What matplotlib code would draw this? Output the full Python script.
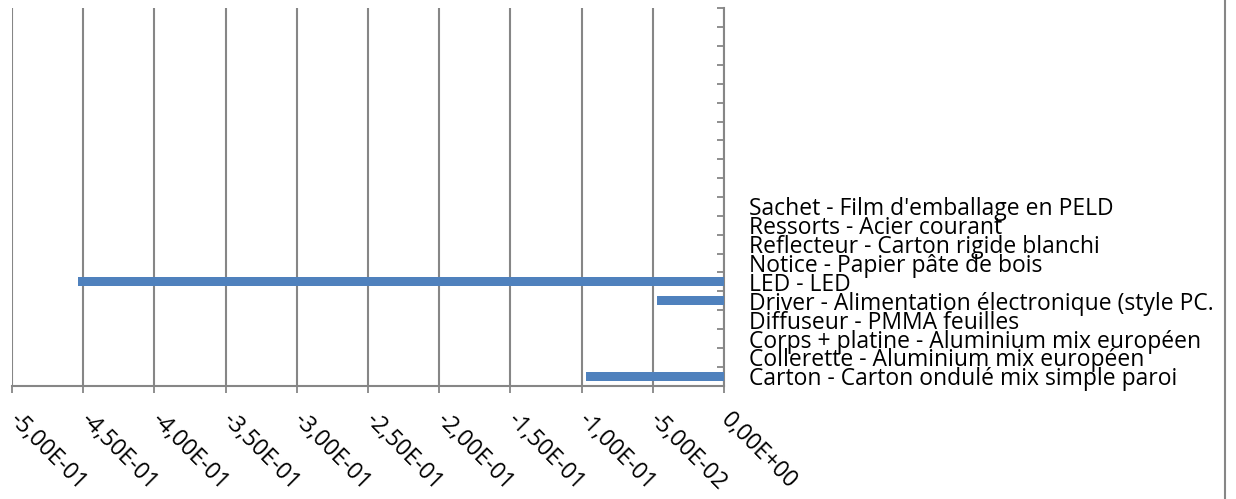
import matplotlib
matplotlib.use("Agg")
import matplotlib.pyplot as plt
from matplotlib.lines import Line2D
import numpy as np

# Data (bottom to top)
categories = [
    "Carton - Carton ondulé mix simple paroi",
    "Collerette - Aluminium mix européen",
    "Corps + platine - Aluminium mix européen",
    "Diffuseur - PMMA feuilles",
    "Driver - Alimentation électronique (style PC.",
    "LED - LED",
    "Notice - Papier pâte de bois",
    "Reflecteur - Carton rigide blanchi",
    "Ressorts - Acier courant",
    "Sachet - Film d'emballage en PELD",
    "", "", "", "", "", "", "", "", "", "",
]
values = [-0.097, 0, 0, 0, -0.047, -0.454, 0, 0, 0, 0,
          0, 0, 0, 0, 0, 0, 0, 0, 0, 0]
xticks = [-0.5, -0.45, -0.4, -0.35, -0.3, -0.25, -0.2, -0.15, -0.1, -0.05, 0.0]
xticklabels = ["-5,00E-01", "-4,50E-01", "-4,00E-01", "-3,50E-01", "-3,00E-01",
               "-2,50E-01", "-2,00E-01", "-1,50E-01", "-1,00E-01", "-5,00E-02",
               "0,00E+00"]

plt.rcParams['font.family'] = ['Open Sans', 'DejaVu Sans']
FS = 16.5
grey = '#868686'
blue = '#4F81BD'

fig = plt.figure(figsize=(12.36, 4.99), dpi=100)
ax = fig.add_axes([12/1236, 1 - 385.7/499, (724 - 12)/1236, (385.7 - 8.3)/499])

n = len(categories)
ypos = np.arange(n)
ax.barh(ypos, values, height=0.48, color=blue, zorder=3)

ax.set_xlim(-0.5, 0)
ax.set_ylim(-0.5, n - 0.5)

ax.set_xticks(xticks)
ax.set_xticklabels(xticklabels, rotation=-45, ha='left', va='center',
                   rotation_mode='anchor', fontsize=FS)
ax.tick_params(axis='x', direction='out', length=5, width=1.3, color=grey, pad=17)
ax.grid(axis='x', color=grey, linewidth=1.5, zorder=0)

ax.yaxis.tick_right()
ax.set_yticks(np.arange(n + 1) - 0.5)
ax.set_yticklabels([])
ax.set_yticks(ypos, minor=True)
ax.set_yticklabels(categories, minor=True, fontsize=FS)
ax.tick_params(axis='y', which='major', direction='in', length=5, width=1.3, color=grey)
ax.tick_params(axis='y', which='minor', length=0, pad=18)

for s in ['top', 'left']:
    ax.spines[s].set_visible(False)
for s in ['bottom', 'right']:
    ax.spines[s].set_color(grey)
    ax.spines[s].set_linewidth(1.5)

fig.add_artist(Line2D([1224.5/1236, 1224.5/1236], [0, 1], color=grey, linewidth=1.5,
                      transform=fig.transFigure))

fig.savefig("out.png", dpi=100, facecolor='white')
